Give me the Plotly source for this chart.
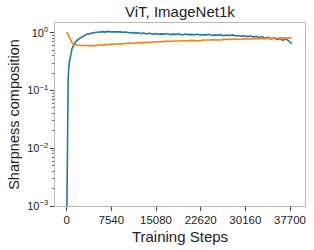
import plotly.graph_objects as go

steps = [0, 100, 150, 250, 400, 600, 900, 1200, 1500,
         2000, 2500, 3000, 3500, 4000, 4500, 5000, 5500, 6000, 6500,
         7000, 7500, 8000, 8500, 9000, 9500, 10000, 10500, 11000, 11500,
         12000, 12500, 13000, 13500, 14000, 14500, 15000, 15500, 16000, 16500,
         17000, 17500, 18000, 18500, 19000, 19500, 20000, 20500, 21000, 21500,
         22000, 22500, 23000, 23500, 24000, 24500, 25000, 25500, 26000, 26500,
         27000, 27500, 28000, 28500, 29000, 29500, 30000, 30500, 31000, 31500,
         32000, 32500, 33000, 33500, 34000, 34500, 35000, 35500, 36000, 36500,
         37000, 37500, 38000]

blue = [0.0004, 0.008, 0.05, 0.17, 0.29, 0.40, 0.53, 0.62, 0.70,
        0.78, 0.85, 0.90, 0.95, 0.98, 1.00, 1.02, 1.03, 1.05, 1.03,
        1.06, 1.04, 1.05, 1.03, 1.04, 1.02, 1.03, 1.00, 1.01, 0.99,
        1.00, 0.97, 0.99, 0.96, 0.98, 0.95, 0.97, 0.94, 0.96, 0.95,
        0.97, 0.93, 0.95, 0.94, 0.96, 0.92, 0.95, 0.93, 0.94, 0.92,
        0.95, 0.91, 0.93, 0.92, 0.94, 0.90, 0.92, 0.91, 0.93, 0.89,
        0.91, 0.90, 0.92, 0.88, 0.90, 0.87, 0.89, 0.86, 0.88, 0.85,
        0.87, 0.83, 0.86, 0.80, 0.84, 0.78, 0.82, 0.76, 0.80, 0.74,
        0.79, 0.72, 0.65]

orange = [1.03, 1.00, 0.98, 0.93, 0.86, 0.77, 0.67, 0.62, 0.61,
          0.61, 0.60, 0.61, 0.60, 0.60, 0.61, 0.60, 0.62, 0.61, 0.63,
          0.62, 0.64, 0.63, 0.64, 0.65, 0.64, 0.66, 0.65, 0.67, 0.66,
          0.68, 0.67, 0.68, 0.69, 0.68, 0.69, 0.70, 0.69, 0.70, 0.71,
          0.70, 0.71, 0.72, 0.71, 0.72, 0.73, 0.72, 0.73, 0.74, 0.73,
          0.74, 0.73, 0.75, 0.74, 0.75, 0.76, 0.75, 0.76, 0.75, 0.77,
          0.76, 0.77, 0.78, 0.77, 0.78, 0.77, 0.79, 0.78, 0.79, 0.78,
          0.80, 0.79, 0.80, 0.79, 0.81, 0.80, 0.81, 0.80, 0.82, 0.81,
          0.82, 0.81, 0.82]

x_ticks = [0, 7540, 15080, 22620, 30160, 37700]
y_ticks = [1e-3, 1e-2, 1e-1, 1]
y_ticktext = ["10<sup>−3</sup>", "10<sup>−2</sup>", "10<sup>−1</sup>", "10<sup>0</sup>"]

minor_vals = [m * d for d in [1e-3, 1e-2, 1e-1, 1] for m in range(2, 10) if m * d < 1.5]

fig = go.Figure()
fig.add_trace(go.Scatter(x=steps, y=blue, mode="lines",
                         line=dict(color="#1f77b4", width=1.6), showlegend=False))
fig.add_trace(go.Scatter(x=steps, y=orange, mode="lines",
                         line=dict(color="#ff7f0e", width=1.6), showlegend=False))

frame = "#b8b8b8"
fig.update_layout(
    template="none",
    width=314, height=250,
    margin=dict(l=55, r=9, t=23, b=44, pad=0),
    paper_bgcolor="white", plot_bgcolor="white",
    font=dict(family="Liberation Sans, Arial, sans-serif", color="#222222"),
    title=dict(text="ViT, ImageNet1k", x=0.573, xanchor="center", y=0.952, yanchor="middle",
               font=dict(size=15, color="#222222"), automargin=False),
)
fig.update_xaxes(
    automargin=False,
    range=[-1975, 40230], tickvals=x_ticks, ticktext=[str(v) for v in x_ticks],
    ticks="outside", ticklen=3.5, tickcolor="#444444", tickwidth=0.8,
    showgrid=False, zeroline=False, showline=True, linecolor=frame, linewidth=1.2, mirror=True,
    tickfont=dict(size=11.5), title=dict(text="Training Steps", font=dict(size=15), standoff=6),
)
fig.update_yaxes(
    automargin=False,
    type="log", range=[-3, 0.17], tickvals=y_ticks, ticktext=y_ticktext,
    ticks="outside", ticklen=3.5, tickcolor="#444444", tickwidth=0.8,
    minor=dict(tickvals=minor_vals, ticks="outside", ticklen=2, tickcolor="#666666", tickwidth=0.6),
    showgrid=False, zeroline=False, showline=True, linecolor=frame, linewidth=1.2, mirror=True,
    tickfont=dict(size=11), title=dict(text="Sharpness composition", font=dict(size=14.5), standoff=4),
)

fig.write_html("out.html",
               config={"displayModeBar": False},
               post_script="document.body.style.margin='0';document.body.style.overflow='hidden';")
